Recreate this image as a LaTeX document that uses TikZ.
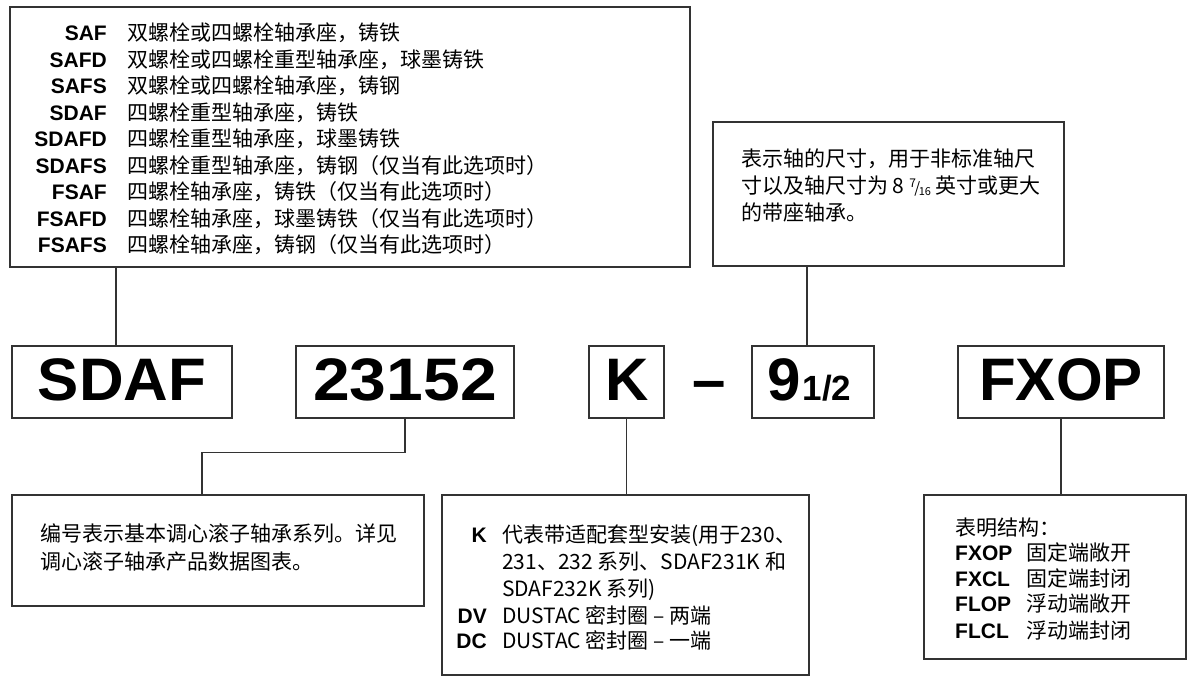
\documentclass[tikz,border=0pt]{standalone}
\usepackage{fontspec}
\setmainfont{Noto Sans CJK SC}
\newfontfamily\labfont{Liberation Sans}
\tikzset{
  infobox/.style={draw=black!80, line width=1.2pt, inner sep=0pt},
  codebox/.style={draw=black!80, line width=1.2pt, inner sep=0pt, minimum height=72pt},
  conn/.style={draw=black!80, line width=1.1pt},
  txt/.style={inner sep=0pt, anchor=base west, font=\fontsize{21}{21}\selectfont},
  labe/.style={inner sep=0pt, anchor=base east, font=\labfont\bfseries\fontsize{21}{21}\selectfont},
  labw/.style={inner sep=0pt, anchor=base west, font=\labfont\bfseries\fontsize{21}{21}\selectfont},
  big/.style={inner sep=0pt, anchor=base, font=\labfont\bfseries\fontsize{60}{60}\selectfont},
}
\begin{document}
\begin{tikzpicture}[x=1pt, y=-1pt]
\useasboundingbox (0,0) rectangle (1188,676);

% information boxes
\node[infobox, minimum width=680pt, minimum height=260pt] (topbox) at (350,137) {};
\node[infobox, minimum width=351pt, minimum height=144pt] (sizebox) at (888.5,194) {};
\node[infobox, minimum width=412pt, minimum height=111pt] (serbox) at (218,550.5) {};
\node[infobox, minimum width=367pt, minimum height=180pt] (kbox) at (625.5,585) {};
\node[infobox, minimum width=262pt, minimum height=164pt] (fxbox) at (1055,577) {};

% code boxes
\node[codebox, minimum width=220pt] (sdafbox) at (122,382) {};
\node[codebox, minimum width=218pt] (numbox) at (405,382) {};
\node[codebox, minimum width=75pt] (kcode) at (626.5,382) {};
\node[codebox, minimum width=122pt] (sizecode) at (813,382) {};
\node[codebox, minimum width=206pt] (fxcode) at (1061,382) {};

% code texts
\node[big] (sdaft) at (122,400) {\scalebox{1.03}[1]{SDAF}};
\node[big] (numt) at (405,400) {\scalebox{1.1}[1]{23152}};
\node[big] (kt) at (627,400) {K};
\node[big] (dasht) at (709,400) {–};
\node[big, anchor=base west] (sizet) at (767,400) {9\kern2pt{\fontsize{35}{35}\selectfont 1/2}};
\node[big] (fxt) at (1061,400) {FXOP};

% connectors
\draw[conn] ([xshift=-6pt]sdafbox.north) -- ([xshift=-6pt]sdafbox.north |- topbox.south);
\draw[conn] ([xshift=-6pt]sizecode.north) -- ([xshift=-6pt]sizecode.north |- sizebox.south);
\draw[conn] (numbox.south) -- ++(0,34) -| ([xshift=-16pt]serbox.north);
\draw[conn] (kcode.south) -- (kcode.south |- kbox.north);
\draw[conn] (fxcode.south) -- (fxcode.south |- fxbox.north);

% top box texts
\foreach \l/\t [count=\i from 0] in {
  SAF/双螺栓或四螺栓轴承座，铸铁,
  SAFD/双螺栓或四螺栓重型轴承座，球墨铸铁,
  SAFS/双螺栓或四螺栓轴承座，铸钢,
  SDAF/四螺栓重型轴承座，铸铁,
  SDAFD/四螺栓重型轴承座，球墨铸铁,
  SDAFS/四螺栓重型轴承座，铸钢（仅当有此选项时）,
  FSAF/四螺栓轴承座，铸铁（仅当有此选项时）,
  FSAFD/四螺栓轴承座，球墨铸铁（仅当有此选项时）,
  FSAFS/四螺栓轴承座，铸钢（仅当有此选项时）}{
  \node[labe] (tl\i) at (107,41+26.5*\i) {\l};
  \node[txt] (tt\i) at (127,41+26.5*\i) {\t};
}

% size box texts
\node[txt] (s1) at (741,167) {表示轴的尺寸，用于非标准轴尺};
\node[txt] (s2) at (741,194) {寸以及轴尺寸为 8 \raisebox{6pt}{\fontsize{12}{12}\selectfont 7}\kern-1.5pt{\fontsize{15}{15}\selectfont /}\kern-1.5pt\raisebox{-2pt}{\fontsize{11}{11}\selectfont 16} 英寸或更大};
\node[txt] (s3) at (741,221) {的带座轴承。};

% series box texts
\node[txt] (r1) at (40,541) {编号表示基本调心滚子轴承系列。详见};
\node[txt] (r2) at (40,569) {调心滚子轴承产品数据图表。};

% K box texts
\node[labe] (kl1) at (487,542) {K};
\node[txt] (kt1) at (502,542) {代表带适配套型安装(用于230、};
\node[txt] (kt2) at (502,569.5) {231、232 系列、SDAF231K 和};
\node[txt] (kt3) at (502,596) {SDAF232K 系列)};
\node[labe] (kl4) at (487,623) {DV};
\node[txt] (kt4) at (502,623) {DUSTAC 密封圈 – 两端};
\node[labe] (kl5) at (487,648) {DC};
\node[txt] (kt5) at (502,648) {DUSTAC 密封圈 – 一端};

% FX box texts
\node[txt] (fh) at (955,535) {表明结构：};
\foreach \l/\t/\y in {FXOP/固定端敞开/560, FXCL/固定端封闭/586, FLOP/浮动端敞开/611, FLCL/浮动端封闭/638}{
  \node[labw] (fl\l) at (955,\y) {\l};
  \node[txt] (ft\l) at (1026,\y) {\t};
}
\end{tikzpicture}
\end{document}
